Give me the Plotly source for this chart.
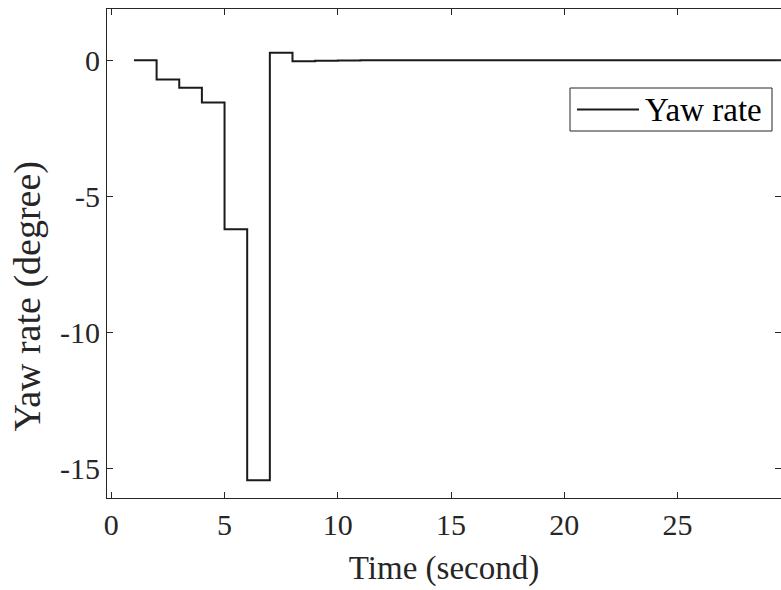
import plotly.graph_objects as go

time_s = list(range(1, 31))
yaw_rate = [0.0, -0.70, -1.01, -1.55, -6.21, -15.45, 0.28, -0.03, -0.01, -0.005,
            0.0, 0.0, 0.0, 0.0, 0.0, 0.0, 0.0, 0.0, 0.0, 0.0,
            0.0, 0.0, 0.0, 0.0, 0.0, 0.0, 0.0, 0.0, 0.0, 0.0]
x_ticks = [0, 5, 10, 15, 20, 25]
y_ticks = [-15, -10, -5, 0]
series_name = "Yaw rate"
x_title = "Time (second)"
y_title = "Yaw rate (degree)"

FONT = "Liberation Serif"
INK = "#262626"
LINE = "#1a1a1a"

# plot-area geometry (pixels)
W, H = 781, 590
L, R, T, B = 107, 0, 9, 92
PW, PH = W - L - R, H - T - B


def px(xp):
    return (xp - L) / PW


def py(yp):
    return (H - B - yp) / PH


fig = go.Figure()
fig.add_trace(go.Scatter(
    x=time_s, y=yaw_rate, mode="lines", line_shape="hv",
    line=dict(color=LINE, width=2), name=series_name, showlegend=False))

axis_common = dict(
    showline=True, linecolor=INK, linewidth=1, mirror="ticks",
    ticks="inside", ticklen=6, tickwidth=1, tickcolor=INK,
    showgrid=False, zeroline=False, automargin=False,
    tickfont=dict(family=FONT, size=30, color=INK),
)

fig.update_xaxes(range=[-0.19, 29.57], tickvals=x_ticks,
                 title=dict(text=x_title, font=dict(family=FONT, size=33, color=INK), standoff=15),
                 **axis_common)
fig.update_yaxes(range=[-16.1, 1.89], tickvals=y_ticks,
                 ticktext=[str(v) for v in y_ticks],
                 **axis_common)

# y-axis title (placed lower than centre, as in the reference)
fig.add_annotation(text=y_title, xref="paper", yref="paper",
                   x=px(27), y=py(296.5), xanchor="center", yanchor="middle",
                   textangle=-90, showarrow=False,
                   font=dict(family=FONT, size=38, color=INK))

# legend box drawn like the MATLAB legend
fig.add_shape(type="rect", xref="paper", yref="paper",
              x0=px(570), x1=px(772), y0=py(131), y1=py(88),
              line=dict(color=INK, width=1), fillcolor="white", layer="above")
fig.add_shape(type="line", xref="paper", yref="paper",
              x0=px(577), x1=px(639), y0=py(109.5), y1=py(109.5),
              line=dict(color=LINE, width=2), layer="above")
fig.add_annotation(text=series_name, xref="paper", yref="paper",
                   x=px(643), y=py(110), xanchor="left", yanchor="middle",
                   showarrow=False, font=dict(family=FONT, size=33, color="black"))

fig.update_layout(
    template="none",
    width=W, height=H,
    margin=dict(l=L, r=R, t=T, b=B, autoexpand=False),
    paper_bgcolor="white", plot_bgcolor="white",
    showlegend=False,
)

fig.write_html("out.html", config={"displayModeBar": False},
               post_script="document.body.style.margin='0';")
